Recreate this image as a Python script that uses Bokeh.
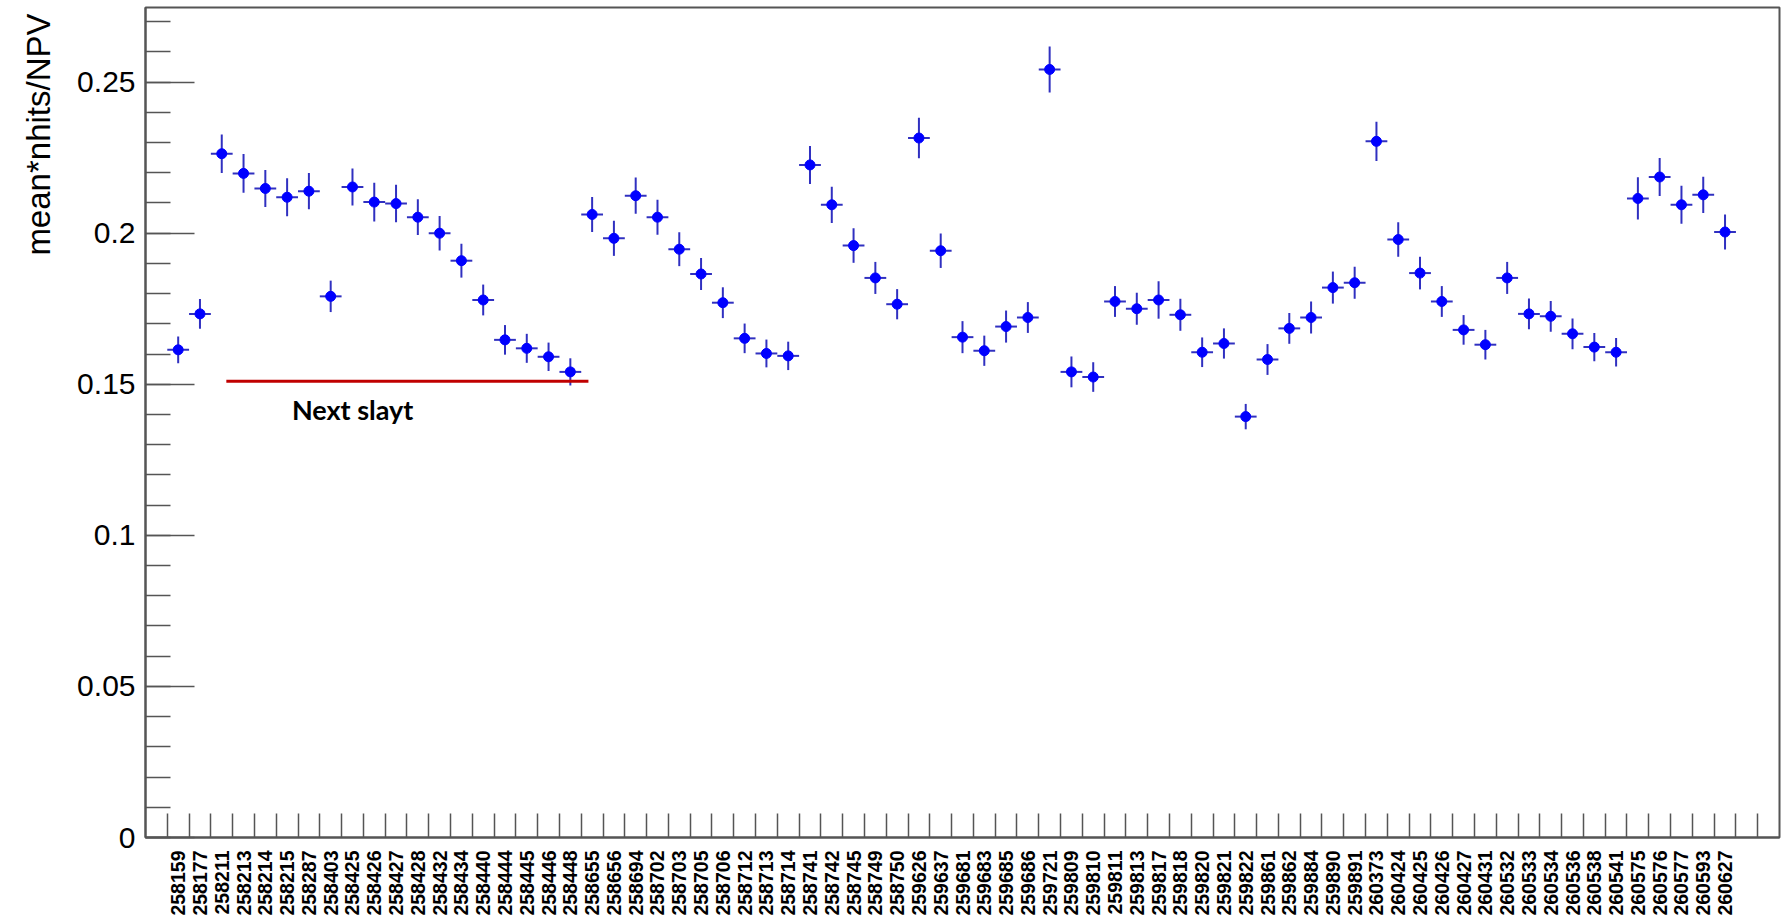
import math
from bokeh.plotting import figure
from bokeh.models import Range1d, FixedTicker, CustomJSTickFormatter, Title, ColumnDataSource
from bokeh.core.properties import value
from bokeh.embed import file_html
from bokeh.resources import INLINE

runs = ["258159", "258177", "258211", "258213", "258214", "258215", "258287", "258403",
        "258425", "258426", "258427", "258428", "258432", "258434", "258440", "258444",
        "258445", "258446", "258448", "258655", "258656", "258694", "258702", "258703",
        "258705", "258706", "258712", "258713", "258714", "258741", "258742", "258745",
        "258749", "258750", "259626", "259637", "259681", "259683", "259685", "259686",
        "259721", "259809", "259810", "259811", "259813", "259817", "259818", "259820",
        "259821", "259822", "259861", "259862", "259884", "259890", "259891", "260373",
        "260424", "260425", "260426", "260427", "260431", "260532", "260533", "260534",
        "260536", "260538", "260541", "260575", "260576", "260577", "260593", "260627"]

values = [0.1614, 0.1733, 0.2263, 0.2198, 0.2148, 0.2119, 0.2139, 0.1791,
          0.2153, 0.2103, 0.2098, 0.2053, 0.2000, 0.1909, 0.1779, 0.1647,
          0.1619, 0.1591, 0.1541, 0.2062, 0.1983, 0.2124, 0.2053, 0.1947,
          0.1865, 0.1770, 0.1652, 0.1602, 0.1594, 0.2226, 0.2094, 0.1959,
          0.1852, 0.1765, 0.2315, 0.1942, 0.1656, 0.1611, 0.1691, 0.1721,
          0.2542, 0.1541, 0.1524, 0.1774, 0.1750, 0.1779, 0.1730, 0.1606,
          0.1635, 0.1393, 0.1582, 0.1685, 0.1721, 0.1820, 0.1836, 0.2304,
          0.1979, 0.1868, 0.1774, 0.1680, 0.1631, 0.1852, 0.1733, 0.1725,
          0.1667, 0.1623, 0.1606, 0.2115, 0.2186, 0.2094, 0.2127, 0.2004]

errors = [0.0044, 0.0049, 0.0064, 0.0064, 0.0061, 0.0063, 0.0060, 0.0052,
          0.0061, 0.0064, 0.0062, 0.0059, 0.0057, 0.0056, 0.0051, 0.0049,
          0.0048, 0.0047, 0.0045, 0.0058, 0.0058, 0.0060, 0.0058, 0.0056,
          0.0053, 0.0051, 0.0049, 0.0046, 0.0047, 0.0063, 0.0060, 0.0057,
          0.0053, 0.0050, 0.0067, 0.0057, 0.0053, 0.0050, 0.0053, 0.0051,
          0.0076, 0.0051, 0.0049, 0.0051, 0.0053, 0.0062, 0.0053, 0.0049,
          0.0050, 0.0042, 0.0051, 0.0051, 0.0053, 0.0053, 0.0053, 0.0065,
          0.0057, 0.0054, 0.0051, 0.0049, 0.0049, 0.0053, 0.0051, 0.0051,
          0.0051, 0.0047, 0.0047, 0.0070, 0.0063, 0.0063, 0.0060, 0.0058]

y_title = "mean*nhits/NPV"
note_text = "Next slayt"
note_line_x = [3.21, 19.83]
note_line_y = [0.151, 0.151]
note_text_x = 6.22
note_text_y = 0.1416

n_bins = 75          # one empty bin before, two after the labelled runs
y_max = 0.2747

xs = list(range(1, len(runs) + 1))
src = ColumnDataSource(dict(
    x=xs, y=values,
    lo=[v - e for v, e in zip(values, errors)],
    hi=[v + e for v, e in zip(values, errors)],
    xl=[x - 0.5 for x in xs], xr=[x + 0.5 for x in xs],
))

p = figure(width=1783, height=920, output_backend="svg", toolbar_location=None,
           x_range=Range1d(-0.5, n_bins - 0.5), y_range=Range1d(0, y_max),
           title=None, min_border_left=142, min_border_right=4,
           min_border_top=7, min_border_bottom=83)
p.background_fill_color = "white"
p.border_fill_color = "white"
p.xgrid.visible = False
p.ygrid.visible = False
p.outline_line_color = "#555555"
p.outline_line_width = 2

axis_col = "#555555"

# X axis: labels at bin centres, ticks at bin edges
xa = p.xaxis[0]
xa.ticker = FixedTicker(ticks=xs, minor_ticks=[i + 0.5 for i in range(0, n_bins - 1)])
xa.major_label_overrides = {x: r for x, r in zip(xs, runs)}
xa.major_label_orientation = math.pi / 2
xa.major_tick_in = 0
xa.major_tick_out = 0
xa.minor_tick_in = 24
xa.minor_tick_out = 0
xa.minor_tick_line_color = axis_col
xa.minor_tick_line_width = 1.5
xa.axis_line_color = axis_col
xa.axis_line_width = 2
xa.major_label_standoff = 13
xa.major_label_text_font = "Liberation Sans"
xa.major_label_text_font_style = "bold"
xa.major_label_text_font_size = "19.5px"
xa.major_label_text_color = "black"

# Y axis
ya = p.yaxis[0]
ya.ticker = FixedTicker(ticks=[0, 0.05, 0.1, 0.15, 0.2, 0.25],
                        minor_ticks=[k / 100 for k in range(0, 28)])
ya.formatter = CustomJSTickFormatter(code="return Number(tick.toFixed(2)).toString();")
ya.major_tick_in = 49
ya.major_tick_out = 0
ya.minor_tick_in = 25
ya.minor_tick_out = 0
ya.major_tick_line_color = axis_col
ya.minor_tick_line_color = axis_col
ya.major_tick_line_width = 1.5
ya.minor_tick_line_width = 1.5
ya.axis_line_color = axis_col
ya.axis_line_width = 2
ya.major_label_standoff = 10
ya.major_label_text_font = "Liberation Sans"
ya.major_label_text_font_style = "normal"
ya.major_label_text_font_size = "30px"
ya.major_label_text_color = "black"

ytitle = Title(text=y_title, align="right", text_font="Liberation Sans",
               text_font_style="normal", text_font_size="33px", text_color="black",
               standoff=35, offset=6)
p.add_layout(ytitle, "left")

# Error bars and markers
bar_col = "#3030c0"
p.segment(x0="x", y0="lo", x1="x", y1="hi", source=src, line_color=bar_col, line_width=2)
p.segment(x0="xl", y0="y", x1="xr", y1="y", source=src, line_color=bar_col, line_width=2)
p.scatter(x="x", y="y", source=src, size=10, marker="circle",
          fill_color="#0000ff", line_color="#0000ff")

# Annotation
p.line(x=note_line_x, y=note_line_y, line_color="#c00000", line_width=3)
p.text(x=[note_text_x], y=[note_text_y], text=[note_text], text_font=value("Lato"),
       text_font_style="bold", text_font_size="27px", text_align="left",
       text_baseline="middle", text_color="black")

open("out.html", "w").write(file_html(p, INLINE))
